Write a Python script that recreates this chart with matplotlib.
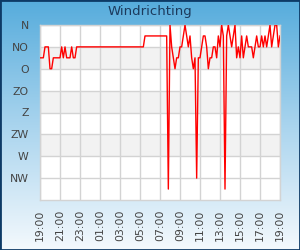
import numpy as np
import matplotlib
matplotlib.use("Agg")
import matplotlib.pyplot as plt
from matplotlib.colors import LinearSegmentedColormap
from matplotlib.patches import Rectangle

# ---- data ----
title = "Windrichting"
dir_labels = ["N", "NO", "O", "ZO", "Z", "ZW", "W", "NW"]
dir_degrees = [0, 45, 90, 135, 180, 225, 270, 315]
time_tick_labels = ["19:00", "21:00", "23:00", "01:00", "03:00", "05:00", "07:00",
                    "09:00", "11:00", "13:00", "15:00", "17:00", "19:00"]
step_minutes = 10
direction = (
    [67.5] * 3 + [45] * 3 + [90] * 2 + [67.5] * 5 + [45, 67.5, 45] + [67.5] * 3
    + [45] + [67.5] * 2 + [45] * 41 + [22.5] * 14
    + [337.5, 0, 45, 67.5, 90, 67.5, 67.5, 45, 45, 22.5, 0, 22.5, 45, 22.5, 67.5,
       90, 67.5, 315, 67.5, 67.5, 45, 22.5, 22.5, 45, 90, 67.5, 67.5, 45, 45, 67.5,
       22.5, 45, 0, 22.5, 337.5, 22.5, 0, 22.5, 45, 22.5, 0, 67.5, 45, 67.5, 22.5,
       67.5, 45, 22.5, 45, 45, 45, 67.5, 45, 22.5, 45, 45, 22.5, 45, 22.5, 45,
       22.5, 0, 45, 22.5, 0, 0, 45, 22.5]
)
hours = np.arange(len(direction)) * step_minutes / 60.0

# ---- figure ----
fig = plt.figure(figsize=(3, 2.5), dpi=100)

# background gradient
bg = fig.add_axes([0, 0, 1, 1], zorder=-10)
cmap = LinearSegmentedColormap.from_list("bg", ["#56acdc", "#a9d4ee", "#f4f9fd"])
grad = np.linspace(0, 1, 256).reshape(-1, 1)
bg.imshow(grad, aspect="auto", cmap=cmap, extent=[0, 1, 0, 1], origin="upper")
bg.set_axis_off()
fig.patches.append(Rectangle((0, 0), 1, 1, transform=fig.transFigure, fill=False,
                             edgecolor="#0d3a66", linewidth=2.0, zorder=10))

ax = fig.add_axes([40 / 300, 0.2, 240 / 300, 0.7])
ax.set_facecolor("white")
for lo in (45, 135, 225):
    ax.axhspan(lo, lo + 45, color="#f2f2f2", zorder=0, lw=0)

ax.plot(hours, direction, color="#ff0000", lw=1.0, zorder=3)

ax.set_xlim(0, 24)
ax.set_ylim(360, 0)
ax.set_yticks(dir_degrees)
ax.set_yticklabels(dir_labels)
ax.set_xticks(np.arange(0, 25, 2))
ax.set_xticklabels(time_tick_labels, rotation=90)
ax.tick_params(axis="both", length=0, labelsize=7.8, colors="#444444")
ax.tick_params(axis="y", pad=8)
ax.tick_params(axis="x", pad=7)
ax.grid(True, color="#d3d3d3", lw=1.0, zorder=1)
ax.set_axisbelow(True)
for s in ax.spines.values():
    s.set_color("#d3d3d3")
    s.set_linewidth(1.0)

fig.text(0.5, 0.952, title, ha="center", va="center", fontsize=9.5, color="#1c3a5c")

fig.savefig("out.png", dpi=100)
